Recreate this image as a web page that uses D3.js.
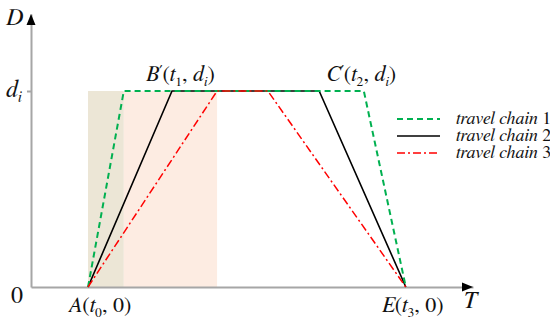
<!DOCTYPE html>
<html>
<meta charset="utf-8">
<style>
body { margin: 0; background: #fff; }
svg { display: block; }
.axis path, .axis line { stroke: #a6a6a6; stroke-width: 2px; }
.lbl { fill: #111; }
.it { font-style: italic; }
</style>
<body>
<script src="https://d3js.org/d3.v7.min.js"></script>
<script>

// time points (abstract units)
var tStart = 12.9, tEnd = 84.8;
var chainNames = ["travel chain", "travel chain", "travel chain"];
var chainNums = ["1", "2", "3"];
var chain1T = [12.9, 21.0, 75.3, 84.8];
var chain2T = [12.9, 31.9, 65.2, 84.8];
var chain3T = [12.9, 42.1, 53.6, 84.8];
var chainD = [0, 1, 1, 0];
var diValue = 1;
var colors = ["#00b050", "#000000", "#ff0000"];
var dashes = ["6,4", null, "8,3,2,3"];
var widths = [2, 1.6, 1.5];

var W = 550, H = 322;
var serif = "FreeSerif, 'Liberation Serif', serif";

var x = d3.scaleLinear().domain([0, 100]).range([31, 473]);
var y = d3.scaleLinear().domain([0, 1.393]).range([287, 14]);

var svg = d3.select("body").append("svg")
    .attr("width", W)
    .attr("height", H);

// shaded phases
svg.append("rect")
    .attr("x", x(tStart)).attr("y", y(diValue))
    .attr("width", x(chain1T[1]) - x(tStart))
    .attr("height", y(0) - y(diValue))
    .attr("fill", "#ece6d6");
svg.append("rect")
    .attr("x", x(chain1T[1])).attr("y", y(diValue))
    .attr("width", x(chain3T[1]) - x(chain1T[1]))
    .attr("height", y(0) - y(diValue))
    .attr("fill", "#fdece2");

// axes
svg.append("g")
    .attr("class", "axis")
    .attr("transform", "translate(" + x(0) + ",0)")
    .call(d3.axisLeft(y).tickValues([diValue]).tickSize(4).tickSizeOuter(0).tickFormat(""));
svg.append("g")
    .attr("class", "axis")
    .attr("transform", "translate(0," + y(0) + ")")
    .call(d3.axisBottom(x).tickValues([]).tickSizeOuter(0));

// arrow heads
svg.append("path")
    .attr("d", "M" + x(0) + "," + (y.range()[1]) + "l-4.5,11h9z")
    .attr("fill", "#000");
svg.append("path")
    .attr("d", "M" + x.range()[1] + "," + y(0) + "l-11,-4.5v9z")
    .attr("fill", "#000");

// chains
var line = d3.line()
    .x(function(d) { return x(d[0]); })
    .y(function(d) { return y(d[1]); });

var series = [chain1T, chain2T, chain3T];
[1, 0, 2].forEach(function(i) {
  svg.append("path")
      .datum(series[i].map(function(t, k) { return [t, chainD[k]]; }))
      .attr("d", line)
      .attr("fill", "none")
      .attr("stroke", colors[i])
      .attr("stroke-width", widths[i])
      .attr("stroke-dasharray", dashes[i]);
});

// legend
chainNames.forEach(function(n, i) {
  var ly = 119 + i * 17;
  svg.append("line")
      .attr("x1", 397).attr("x2", 440)
      .attr("y1", ly).attr("y2", ly)
      .attr("stroke", colors[i])
      .attr("stroke-width", widths[i])
      .attr("stroke-dasharray", dashes[i]);
  var t = svg.append("text").attr("class", "lbl")
      .attr("x", 456).attr("y", ly + 5)
      .attr("font-family", serif)
      .attr("font-size", 18);
  t.append("tspan").attr("class", "it").text(n + " ");
  t.append("tspan").text(chainNums[i]);
});

// math labels: parts = [text, italic, shift]
function label(px, py, size, parts) {
  var t = svg.append("text").attr("class", "lbl")
      .attr("x", px).attr("y", py)
      .attr("font-family", serif)
      .attr("font-size", size);
  var prev = 0;
  parts.forEach(function(p) {
    var shift = p[2] || 0;
    var s = t.append("tspan").text(p[0])
        .attr("dy", shift - prev);
    if (p[1]) s.attr("class", "it");
    if (shift) s.attr("font-size", size * 0.62);
    prev = shift;
  });
}

label(6, 25, 24, [["D", true]]);
label(6, 97, 24, [["d", true], ["i", true, 5]]);
label(11, 303, 24, [["0"]]);
label(463, 308, 24, [["T", true]]);
label(68, 312, 22, [["A", true], ["("], ["t", true], ["0", false, 5], [", 0)"]]);
label(382, 312, 22, [["E", true], ["("], ["t", true], ["3", false, 5], [", 0)"]]);
label(146, 81, 22, [["B", true], ["\u2032", false, -7], ["(", false, 0], ["t", true], ["1", false, 5], [", "], ["d", true], ["i", true, 5], [")"]]);
label(327, 81, 22, [["C", true], ["\u2032", false, -7], ["(", false, 0], ["t", true], ["2", false, 5], [", "], ["d", true], ["i", true, 5], [")"]]);

</script>
</body>
</html>
